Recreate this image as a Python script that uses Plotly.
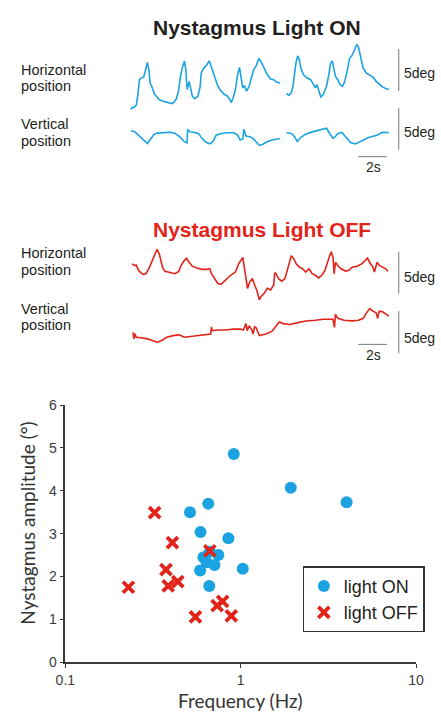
import plotly.graph_objects as go

W, H = 441, 725

# ---------------- scatter data ----------------
on_freq = [0.913, 1.93, 4.02, 0.653, 0.514, 0.590, 0.851, 0.613, 0.667, 0.746, 0.709, 0.587, 0.639, 1.028, 0.662]
on_amp = [4.86, 4.07, 3.73, 3.70, 3.50, 3.04, 2.89, 2.45, 2.58, 2.50, 2.27, 2.14, 2.33, 2.18, 1.78]
off_freq = [0.323, 0.408, 0.667, 0.375, 0.229, 0.386, 0.438, 0.552, 0.734, 0.789, 0.884]
off_amp = [3.49, 2.79, 2.60, 2.16, 1.75, 1.78, 1.88, 1.06, 1.32, 1.42, 1.08]

# ---------------- eye traces (time s, position deg) ----------------
on_h_t = [0, 0.1, 0.22, 0.38, 0.49, 0.6, 0.71, 0.89, 1.05, 1.15, 1.27, 1.33, 1.45, 1.55, 1.65, 1.82, 1.93, 2.15,
          2.49, 2.82, 2.98, 3.15, 3.31, 3.45, 3.6, 3.73, 3.82, 3.91, 4.05, 4.15, 4.27, 4.45, 4.67, 4.82, 4.89,
          5.05, 5.27, 5.45, 5.6, 5.82, 6.05, 6.27, 6.49, 6.71, 6.89, 6.98, 7.11, 7.27, 7.42, 7.55, 7.67, 7.78,
          7.89, 8.05, 8.22, 8.38, 8.53, 8.71, 8.89, 9.05, 9.27, 9.49, 9.71, 9.93, 10.15, 10.38, None,
          10.82, 10.98, 11.15, 11.27, 11.38, 11.49, 11.6, 11.71, 11.82, 12.0, 12.27, 12.49, 12.71, 12.82, 12.93,
          13.05, 13.2, 13.38, 13.6, 13.78, 13.87, 14.0, 14.11, 14.22, 14.38, 14.53, 14.71, 14.87, 15.05, 15.2,
          15.38, 15.55, 15.71, 15.82, 16.0, 16.15, 16.38, 16.6, 16.82, 17.05, 17.27, 17.49, 17.71, 17.93]
on_h_deg = [0, 0.29, 0.27, 0.55, 1.83, 3.57, 3.76, 3.87, 4.92, 5.62, 4.53, 3.17, 2.79, 2.41, 1.83, 1.51, 1.24, 1.05,
            0.85, 0.73, 0.85, 1.24, 2.21, 3.95, 5.12, 5.78, 4.73, 2.41, 3.37, 2.41, 1.63, 1.31, 1.63, 2.79, 4.34,
            4.92, 5.31, 5.81, 5.12, 3.95, 2.79, 2.21, 1.83, 1.63, 1.16, 0.85, 1.43, 2.41, 4.15, 5.03, 3.76, 2.59,
            2.87, 2.21, 2.79, 3.76, 4.73, 5.2, 6.08, 5.7, 4.92, 4.15, 3.64, 3.57, 3.26, 3.17, None,
            1.94, 1.71, 2.01, 2.79, 4.34, 5.7, 6.4, 5.9, 4.92, 4.15, 3.76, 3.57, 2.99, 2.59, 2.99,
            2.21, 1.51, 1.83, 2.79, 4.34, 5.5, 5.81, 4.73, 3.95, 3.57, 2.99, 2.79, 3.37, 4.73, 6.08,
            6.48, 7.06, 7.76, 7.44, 5.9, 4.92, 4.34, 4.15, 3.87, 3.37, 2.99, 2.71, 2.52, 2.41]

on_v_t = [0, 0.27, 0.49, 0.71, 0.93, 1.15, 1.38, 1.6, 1.82, 2.27, 2.71, 3.05, 3.38, 3.71, 3.9, 3.95, 4.09, 4.38,
          4.71, 4.93, 5.2, 5.49, 5.71, 5.93, 6.27, 6.71, 7.15, 7.42, 7.6, 7.78, 7.85, 8.0, 8.27, 8.49, 8.71, 8.93,
          9.15, 9.49, 9.82, 10.09, 10.38, None,
          10.82, 11.15, 11.38, 11.57, 11.8, 12.15, 12.6, 13.05, 13.38, 13.6, 13.82, 14.05, 14.2, 14.4, 14.67,
          14.91, 15.27, 15.6, 15.99, 16.53, 17.1, 17.49, 17.93]
on_v_deg = [1.69, 1.57, 1.22, 0.87, 0.58, 0.17, 0.70, 1.22, 1.40, 1.45, 1.51, 1.40, 0.99, 0.41, 0.23, 1.86, 1.57, 1.51,
            1.34, 0.81, 0.35, 0.12, 0.41, 1.16, 1.36, 1.45, 1.45, 1.16, 0.58, 0.70, 1.86, 1.05, 0.97, 0.78, 0.29, -0.06,
            0.06, 0.41, 0.58, 0.70, 0.76, None,
            1.45, 1.36, 0.97, 0.41, 0.87, 1.28, 1.55, 1.74, 1.80, 1.98, 1.36, 0.78, 0.99, 1.36, 1.49,
            0.97, 0.29, 0.12, 0.47, 0.87, 1.16, 1.49, 1.48]

off_h_t = [0.09, 0.2, 0.27, 0.37, 0.53, 0.82, 1.05, 1.27, 1.49, 1.65, 1.82, 1.98, 2.09, 2.22, 2.38, 2.71, 3.05, 3.33,
           3.49, 3.71, 3.87, 4.05, 4.27, 4.6, 4.93, 5.27, 5.49, 5.6, 5.82, 6.05, 6.27, 6.49, 6.71, 6.93, 7.27, 7.49,
           7.78, 7.93, 8.0, 8.11, 8.27, 8.45, 8.6, 8.75, 8.93, 9.05, 9.27, 9.49, 9.71, 9.93, 10.0, 10.09, 10.27,
           10.49, 10.71, 10.89, 11.05, 11.15, 11.33, 11.49, 11.71, 11.93, 12.15, 12.38, 12.6, 12.82, 13.05, 13.27,
           13.49, 13.65, 13.82, 13.93, 14.05, 14.13, 14.22, 14.38, 14.6, 14.93, 15.15, 15.38, 15.71, 16.05, 16.27,
           16.45, 16.6, 16.82, 16.93, 17.11, 17.27, 17.49, 17.71, 17.87]
off_h_deg = [4.34, 4.24, 4.15, 4.21, 3.57, 3.10, 3.17, 3.84, 4.73, 5.5, 6.08, 5.5, 4.53, 3.84, 3.45, 3.29, 3.17, 3.45,
             4.15, 4.73, 5.0, 4.53, 4.07, 3.84, 3.69, 3.69, 3.76, 3.17, 2.59, 2.01, 1.9, 2.29, 2.67, 2.99, 3.37, 4.34,
             5.12, 3.57, 2.99, 1.43, 2.21, 2.59, 1.83, 1.24, 0.08, 0.47, 0.85, 1.43, 1.24, 1.83, 3.29, 3.17, 2.59,
             2.29, 2.59, 3.76, 4.73, 5.31, 4.92, 4.34, 3.95, 3.76, 3.37, 3.76, 3.17, 2.99, 2.67, 2.99,
             3.57, 4.53, 5.31, 5.78, 5.12, 3.17, 4.53, 4.15, 3.76, 3.49, 3.57, 3.95, 4.07, 4.34, 4.73,
             5.03, 4.53, 3.95, 3.37, 4.53, 4.15, 3.95, 3.76, 3.45]

off_v_t = [0.15, 0.22, 0.27, 0.38, 0.71, 1.15, 1.49, 1.82, 2.15, 2.49, 2.93, 3.38, 3.71, 4.15, 4.71, 5.27, 5.55, 5.6,
           5.65, 6.05, 6.6, 7.15, 7.6, 7.82, 8.0, 8.09, 8.22, 8.38, 8.49, 8.6, 8.71, 8.93, 9.38, 9.82, 10.15, 10.31,
           10.6, 11.05, 11.6, 12.15, 12.82, 13.38, 14.05, 14.15, 14.22, 14.38, 14.82, 15.38, 15.82, 16.15, 16.38,
           16.6, 16.82, 17.05, 17.15, 17.27, 17.49, 17.71, 17.93]
off_v_deg = [1.2, 0.43, 1.05, 0.62, 0.55, 0.43, 0.23, 0.03, 0.23, 0.62, 0.81, 0.9, 0.62, 0.73, 0.81, 1.01, 1.01, 1.86,
             1.4, 1.48, 1.48, 1.59, 1.59, 1.48, 2.24, 1.4, 1.98, 1.59, 1.01, 1.86, 1.74, 0.81, 1.01, 1.34, 2.09, 2.44,
             2.24, 2.13, 2.36, 2.56, 2.64, 2.76, 2.76, 1.78, 3.34, 2.87, 2.64, 2.56, 2.64, 2.87, 3.52,
             4.03, 3.72, 3.52, 2.87, 3.72, 3.64, 3.41, 3.14]

scale_time_s = 2
scale_deg = 5

# ---------------- styling / layout helpers ----------------
BLUE = "#1BA3E1"
RED = "#E2231A"
TXT = "#231F20"
AX = "#3a3a3a"
ARIAL = "Arial, Liberation Sans, sans-serif"
CAL = "Lato, Open Sans, sans-serif"
PX_PER_S = 15.0
PX_PER_DEG = 8.6
T0_PX = 126


def px_box(xl, xr, yt, yb, base_py):
    xd = [xl / W, xr / W]
    yd = [1 - yb / H, 1 - yt / H]
    xr_ = [(xl - T0_PX) / PX_PER_S, (xr - T0_PX) / PX_PER_S]
    yr_ = [(base_py - yb) / PX_PER_DEG, (base_py - yt) / PX_PER_DEG]
    return xd, yd, xr_, yr_


fig = go.Figure()

fig.add_trace(go.Scatter(x=on_freq, y=on_amp, mode="markers", name="light ON",
                         marker=dict(symbol="circle", size=12, color=BLUE, line=dict(width=0)),
                         xaxis="x", yaxis="y"))
fig.add_trace(go.Scatter(x=off_freq, y=off_amp, mode="markers", name="light OFF",
                         marker=dict(symbol="x-thin", size=11, color=RED, line=dict(width=3.8, color=RED)),
                         xaxis="x", yaxis="y"))

boxes = {
    2: px_box(120, 441, 28, 108, 104),   # ON horizontal
    3: px_box(120, 441, 100, 158, 140),  # ON vertical
    4: px_box(120, 441, 238, 302, 299),  # OFF horizontal
    5: px_box(120, 441, 300, 358, 342),  # OFF vertical
}
traces = {2: (on_h_t, on_h_deg, BLUE), 3: (on_v_t, on_v_deg, BLUE),
          4: (off_h_t, off_h_deg, RED), 5: (off_v_t, off_v_deg, RED)}
for k, (t, d, c) in traces.items():
    fig.add_trace(go.Scatter(x=t, y=d, mode="lines", line=dict(color=c, width=1.6),
                             showlegend=False, hoverinfo="skip", connectgaps=False,
                             xaxis=f"x{k}", yaxis=f"y{k}"))

# scale bars (vertical: 5 deg ; horizontal: 2 s)
bar_t = 18.62
vbars = {2: 2.21, 3: -0.58, 4: 0.81, 5: -1.28}
for k, y0 in vbars.items():
    fig.add_trace(go.Scatter(x=[bar_t, bar_t], y=[y0, y0 + scale_deg], mode="lines",
                             line=dict(color="#7a7a7a", width=1), showlegend=False, hoverinfo="skip",
                             xaxis=f"x{k}", yaxis=f"y{k}"))
hbars = {3: -1.4, 5: -0.23}
for k, y0 in hbars.items():
    fig.add_trace(go.Scatter(x=[15.8, 15.8 + scale_time_s], y=[y0, y0], mode="lines",
                             line=dict(color="#7a7a7a", width=1), showlegend=False, hoverinfo="skip",
                             xaxis=f"x{k}", yaxis=f"y{k}"))

layout = dict(
    width=W, height=H, margin=dict(l=0, r=0, t=0, b=0),
    paper_bgcolor="white", plot_bgcolor="rgba(0,0,0,0)",
    showlegend=True,
    legend=dict(x=305 / W, y=1 - 571 / H, xanchor="left", yanchor="top",
                bordercolor="#333333", borderwidth=1.3, bgcolor="white",
                font=dict(family=ARIAL, size=18, color=TXT), itemwidth=30,
                tracegroupgap=0),
    xaxis=dict(type="log", range=[-1, 1], domain=[57.7 / W, 423.3 / W], anchor="y",
               tickvals=[0.1, 1, 10], ticktext=["0.1", "1", "10"],
               ticks="outside", ticklen=4, tickwidth=1.3, tickcolor=AX,
               showline=True, linecolor=AX, linewidth=1.5, showgrid=False, zeroline=False,
               tickfont=dict(family=ARIAL, size=14, color=AX), fixedrange=True),
    yaxis=dict(range=[0, 6], domain=[1 - 669 / H, 1 - 406 / H], anchor="x", dtick=1,
               ticks="outside", ticklen=4, tickwidth=1.3, tickcolor=AX,
               showline=True, linecolor=AX, linewidth=1.5, showgrid=False, zeroline=False,
               tickfont=dict(family=ARIAL, size=14, color=AX), fixedrange=True),
)
for k, (xd, yd, xr_, yr_) in boxes.items():
    layout[f"xaxis{k}"] = dict(domain=xd, range=xr_, anchor=f"y{k}", visible=False, fixedrange=True)
    layout[f"yaxis{k}"] = dict(domain=yd, range=yr_, anchor=f"x{k}", visible=False, fixedrange=True)
fig.update_layout(**layout)


def ann(text, x, y, size, color=TXT, family=ARIAL, xanchor="left", angle=0):
    fig.add_annotation(text=text, x=x / W, y=1 - y / H, xref="paper", yref="paper",
                       xanchor=xanchor, yanchor="middle", showarrow=False, textangle=angle,
                       font=dict(size=size, color=color, family=family))


ann("<b>Nystagmus Light ON</b>", 258, 20, 21, xanchor="center")
ann("<b>Nystagmus Light OFF</b>", 263, 226, 21, color=RED, xanchor="center")
for yy, txt in [(63, "Horizontal"), (79.5, "position"), (119, "Vertical"), (136, "position"),
                (251, "Horizontal"), (267.5, "position"), (308, "Vertical"), (324, "position")]:
    ann(txt, 9, yy, 14.5)
for yy in [66, 127, 275, 337]:
    ann("5deg", 409, yy, 14)
for yy in [163, 355]:
    ann("2s", 379, yy, 14, xanchor="center")

ann("Frequency (Hz)", 240.5, 708, 19, color="#333333", family=CAL, xanchor="center")
ann("Nystagmus amplitude (°)", 18, 527, 19, color="#333333", family=CAL, xanchor="center", angle=-90)

fig.write_html("out.html", config={"displayModeBar": False, "responsive": False},
               post_script="document.body.style.margin='0px';document.body.style.overflow='hidden';")
